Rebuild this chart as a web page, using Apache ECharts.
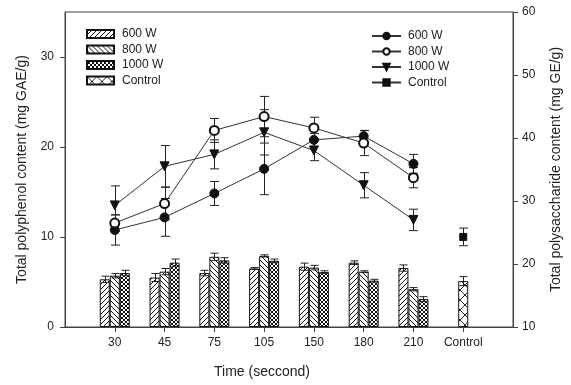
<!DOCTYPE html>
<html>
<head>
    <meta charset="utf-8">
    <title>Polyphenol / polysaccharide</title>
    <script src="https://cdn.jsdelivr.net/npm/echarts@6/dist/echarts.min.js"></script>
    <style type="text/css">
        * { margin: 0; padding: 0; }
        #main { width: 571px; height: 385px; background: #fff; }
    </style>
</head>
<body>
<div id="main"></div>
<script type="text/javascript">
    // categories on the x axis (one empty slot each side, like the original spacing)
    var categories = ['30', '45', '75', '105', '150', '180', '210', 'Control'];

    // bars: total polyphenol (left axis)
    var bar600 = [5.3, 5.5, 6.0, 6.5, 6.7, 7.15, 6.55];
    var bar600Err = [0.35, 0.45, 0.3, 0.1, 0.4, 0.2, 0.35];
    var bar800 = [5.7, 6.15, 7.8, 7.9, 6.6, 6.15, 4.2];
    var bar800Err = [0.25, 0.35, 0.4, 0.12, 0.25, 0.1, 0.18];
    var bar1000 = [6.0, 7.15, 7.4, 7.35, 6.1, 5.15, 3.1];
    var bar1000Err = [0.3, 0.4, 0.3, 0.2, 0.15, 0.15, 0.27];
    var barControl = [5.1];
    var barControlErr = [0.5];

    // lines: total polysaccharide (right axis)
    var line600 = [25.4, 27.4, 31.2, 35.1, 39.7, 40.3, 35.9];
    var line600Err = [2.4, 3.0, 1.9, 4.1, 1.0, 0.9, 1.5];
    var line800 = [26.5, 29.6, 41.2, 43.4, 41.6, 39.2, 33.7];
    var line800Err = [1.3, 2.6, 1.9, 3.2, 1.7, 2.0, 1.6];
    var line1000 = [29.3, 35.5, 37.4, 40.9, 38.0, 32.5, 27.0];
    var line1000Err = [3.1, 3.3, 2.3, 3.6, 1.6, 2.0, 1.7];
    var lineControl = [24.3];
    var lineControlErr = [1.4];

    var leftTicks = [0, 10, 20, 30];

    var FONT = 'Liberation Sans, Arial, sans-serif';
    var INK = '#222';

    // hatch fills drawn on little canvases
    function hatch(kind) {
        var s = kind == 'x' ? 10 : (kind == 'cross' ? 4 : 5);
        var c = document.createElement('canvas');
        c.width = s; c.height = s;
        var ctx = c.getContext('2d');
        ctx.fillStyle = '#fff';
        ctx.fillRect(0, 0, s, s);
        ctx.strokeStyle = '#111';
        ctx.lineWidth = kind == 'x' ? 0.9 : 1;
        function fwd() {
            ctx.moveTo(-1, s + 1); ctx.lineTo(s + 1, -1);
            ctx.moveTo(-1, 1); ctx.lineTo(1, -1);
            ctx.moveTo(s - 1, s + 1); ctx.lineTo(s + 1, s - 1);
        }
        function back() {
            ctx.moveTo(-1, -1); ctx.lineTo(s + 1, s + 1);
            ctx.moveTo(s - 1, -1); ctx.lineTo(s + 1, 1);
            ctx.moveTo(-1, s - 1); ctx.lineTo(1, s + 1);
        }
        ctx.beginPath();
        if (kind == 'fwd') fwd();
        if (kind == 'back') back();
        if (kind == 'cross' || kind == 'x') { fwd(); back(); }
        ctx.stroke();
        return { image: c, repeat: 'repeat' };
    }

    function pairs(vals, start) {
        return vals.map(function (v, i) { return [i + start, v]; });
    }

    // error bars through the axes' own coord()
    function errSeries(vals, errs, start, xIdx, yIdx, offset, capW) {
        return {
            type: 'custom',
            xAxisIndex: xIdx,
            yAxisIndex: yIdx,
            z: 3,
            silent: true,
            encode: { x: 0, y: 1 },
            data: vals.map(function (v, i) { return [i + start, v, errs[i]]; }),
            renderItem: function (params, api) {
                var x = api.value(0), y = api.value(1), e = api.value(2);
                var top = api.coord([x, y + e]);
                var bot = api.coord([x, y - e]);
                var cx = Math.round(top[0] + offset) + 0.5;
                var st = { stroke: '#222', lineWidth: 1 };
                return {
                    type: 'group',
                    children: [
                        { type: 'line', shape: { x1: cx, y1: top[1], x2: cx, y2: bot[1] }, style: st },
                        { type: 'line', shape: { x1: cx - capW / 2, y1: top[1], x2: cx + capW / 2, y2: top[1] }, style: st },
                        { type: 'line', shape: { x1: cx - capW / 2, y1: bot[1], x2: cx + capW / 2, y2: bot[1] }, style: st }
                    ]
                };
            }
        };
    }

    var axisCats = [''].concat(categories).concat(['']);

    function barSeries(name, vals, fill, xIdx) {
        return {
            name: name,
            type: 'bar',
            xAxisIndex: xIdx,
            yAxisIndex: 0,
            barWidth: 10,
            barGap: '0%',
            z: 2,
            itemStyle: { color: fill, borderColor: '#111', borderWidth: 1 },
            data: pairs(vals, xIdx == 1 ? 8 : 1)
        };
    }

    function lineSeries(name, vals, symbol, size, rot, start) {
        return {
            name: name,
            type: 'line',
            xAxisIndex: 0,
            yAxisIndex: 1,
            z: 4,
            symbol: symbol,
            symbolSize: size,
            symbolRotate: rot,
            showAllSymbol: true,
            lineStyle: { color: '#333', width: 1 },
            itemStyle: { color: '#111', borderColor: '#111', borderWidth: 1 },
            data: pairs(vals, start)
        };
    }

    var chart = echarts.init(document.getElementById('main'));

    var option = {
        animation: false,
        backgroundColor: '#fff',
        textStyle: { fontFamily: FONT, color: INK },
        grid: {
            left: 65, right: 58, top: 12, bottom: 58,
            show: true, borderColor: '#444', borderWidth: 1, backgroundColor: 'transparent'
        },
        legend: [{
            orient: 'vertical',
            left: 81, top: 23,
            icon: 'rect',
            itemWidth: 27, itemHeight: 8, itemGap: 3.5,
            textStyle: { fontFamily: FONT, fontSize: 12, color: INK, padding: [0, 0, 0, 3] },
            formatter: function (n) { return n.split(':')[1]; },
            data: ['bar:600 W', 'bar:800 W', 'bar:1000 W', 'bar:Control']
        }, {
            orient: 'vertical',
            left: 366, top: 25,
            itemWidth: 29, itemHeight: 8, itemGap: 3.5,
            textStyle: { fontFamily: FONT, fontSize: 12, color: INK, padding: [0, 0, 0, 2] },
            formatter: function (n) { return n.split(':')[1]; },
            data: ['line:600 W', 'line:800 W', 'line:1000 W', 'line:Control']
        }],
        xAxis: [{
            type: 'category',
            data: axisCats,
            boundaryGap: false,
            name: 'Time (seccond)',
            nameLocation: 'middle',
            nameGap: 38,
            nameTextStyle: { fontFamily: FONT, fontSize: 14, color: INK, padding: [0, 54, 0, 0] },
            axisLine: { lineStyle: { color: '#444', width: 1 } },
            axisTick: {
                length: 5,
                lineStyle: { color: '#444' },
                interval: function (i) { return i > 0 && i < axisCats.length - 1; }
            },
            axisLabel: { interval: 0, margin: 10, fontSize: 12, color: INK, fontFamily: FONT },
            splitLine: { show: false }
        }, {
            type: 'category',
            data: axisCats,
            boundaryGap: false,
            show: false
        }],
        yAxis: [{
            type: 'value',
            min: 0, max: 35, interval: 10,
            position: 'left',
            name: 'Total polyphenol content (mg GAE/g)',
            nameLocation: 'middle',
            nameGap: 36,
            nameTextStyle: { fontFamily: FONT, fontSize: 14, color: INK },
            axisLine: { show: true, lineStyle: { color: '#444', width: 1 } },
            axisTick: { show: true, length: 5, lineStyle: { color: '#444' }, customValues: leftTicks },
            axisLabel: { margin: 11, fontSize: 12, color: INK, fontFamily: FONT, customValues: leftTicks },
            splitLine: { show: false }
        }, {
            type: 'value',
            min: 10, max: 60, interval: 10,
            position: 'right',
            name: 'Total polysaccharide content (mg GE/g)',
            nameLocation: 'middle',
            nameGap: 36,
            nameRotate: 90,
            nameTextStyle: { fontFamily: FONT, fontSize: 14, color: INK },
            axisLine: { show: true, lineStyle: { color: '#444', width: 1 } },
            axisTick: { show: true, length: 5, lineStyle: { color: '#444' } },
            axisLabel: { margin: 9, fontSize: 12, color: INK, fontFamily: FONT },
            splitLine: { show: false }
        }],
        series: [
            barSeries('bar:600 W', bar600, hatch('fwd'), 0),
            barSeries('bar:800 W', bar800, hatch('back'), 0),
            barSeries('bar:1000 W', bar1000, hatch('cross'), 0),
            barSeries('bar:Control', barControl, hatch('x'), 1),

            errSeries(bar600, bar600Err, 1, 0, 0, -10, 8),
            errSeries(bar800, bar800Err, 1, 0, 0, 0, 8),
            errSeries(bar1000, bar1000Err, 1, 0, 0, 10, 8),
            errSeries(barControl, barControlErr, 8, 0, 0, 0, 8),

            errSeries(line600, line600Err, 1, 0, 1, 0, 9),
            errSeries(line800, line800Err, 1, 0, 1, 0, 9),
            errSeries(line1000, line1000Err, 1, 0, 1, 0, 9),
            errSeries(lineControl, lineControlErr, 8, 0, 1, 0, 9),

            lineSeries('line:600 W', line600, 'circle', 9, 0, 1),
            lineSeries('line:800 W', line800, 'emptyCircle', 9, 0, 1),
            lineSeries('line:1000 W', line1000, 'triangle', 9, 180, 1),
            lineSeries('line:Control', lineControl, 'rect', 7, 0, 8)
        ]
    };

    chart.setOption(option);
</script>
</body>
</html>
